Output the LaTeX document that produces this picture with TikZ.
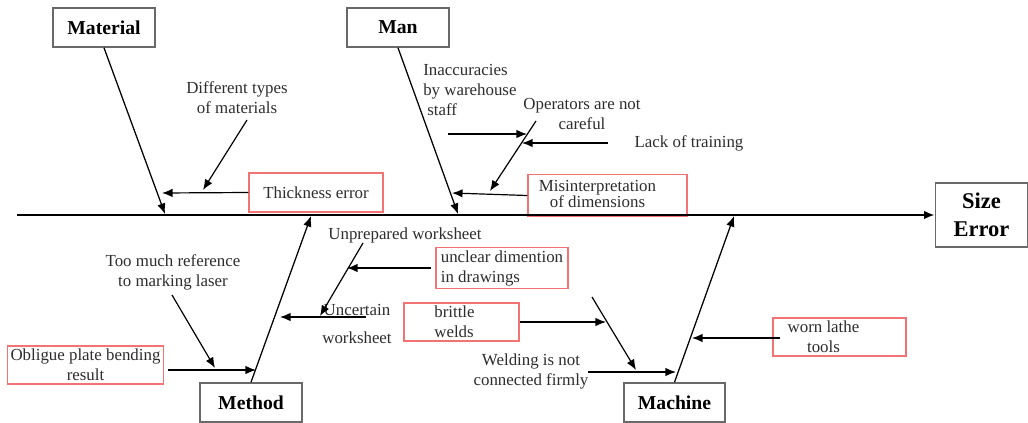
\documentclass[tikz,border=0pt]{standalone}
\usepackage{fontspec}
\setmainfont{Liberation Serif}
\usetikzlibrary{arrows,arrows.meta}
\usetikzlibrary{calc}
\definecolor{boxgray}{RGB}{105,105,105}
\definecolor{boxred}{RGB}{242,115,115}
\definecolor{inkgray}{RGB}{45,45,45}
\tikzset{>={Latex[length=7.5pt,width=6pt]}}
\tikzstyle{bone} = [line width = 0.9, ->]
\tikzstyle{twig} = [line width = 0.85, ->]
\tikzstyle{note} = [%
					text = inkgray,
					inner sep = 0,
					align = center,
					font = \fontsize{12}{14.2}\selectfont
					]

\begin{document}
\begin{tikzpicture}[x=0.025cm, y=-0.025cm, category/.style args={#1,#2}{draw=boxgray,line width=1.1,minimum width=#1,minimum height=#2,inner sep=0,font=\fontsize{14}{16}\selectfont\bfseries},cause/.style args={#1,#2}{draw=boxred,line width=1,minimum width=#1,minimum height=#2,inner sep=2pt,text=inkgray,font=\fontsize{12}{14.2}\selectfont}]

	\useasboundingbox (0,0) rectangle (1028,422);

	% Categories
	\node (material) [category={2.55cm,0.975cm}] at (104,27.5) {Material};
	\node (man)      [category={2.55cm,0.975cm}] at (398,27.5) {Man};
	\node (method)   [category={2.55cm,0.975cm}] at (251,402.5) {Method};
	\node (machine)  [category={2.53cm,0.975cm}] at (674.5,402.5) {Machine};
	\node (effect)   [category={2.3cm,1.6cm}, align=center, font=\fontsize{16}{20}\selectfont\bfseries] at (981.5,215) {Size\\Error};

	% Causes in boxes
	\node (thick)   [cause={3.35cm,0.975cm}] at (316,192.5) {Thickness error};
	\node (misint)  [cause={3.975cm,0.925cm}, align=center] at (607.5,195.5) {\hspace*{-0.5cm}\raisebox{0.1cm}{\begin{tabular}{@{}c@{}}Misinterpretation\\[-0.09cm] of dimensions\end{tabular}}};
	\node (unclear) [cause={3.3cm,0.95cm}, align=left] at (502,268) {unclear dimention\\in drawings};
	\node (brittle) [cause={2.875cm,0.95cm}, align=left] at (461.5,322) {\hspace*{-0.35cm}brittle\\\hspace*{-0.35cm}welds};
	\node (worn)    [cause={3.325cm,0.95cm}, align=center] at (839.5,337) {\hspace*{-0.8cm}worn lathe\\\hspace*{-0.8cm}tools};
	\node (oblique) [cause={3.675cm,0.95cm}, align=center] at (85.5,365) {Obligue plate bending\\result};

	% Causes as plain text
	\node (types)   [note] at (237,98) {Different types\\of materials};
	\node (staff)   [note, align=left, anchor=west] at (423,90) {Inaccuracies\\by warehouse\\\hspace*{0.1cm}staff};
	\node (careless)[note] at (582,114) {Operators are not\\careful};
	\node (training)[note] at (689,143) {Lack of training};
	\node (laser)   [note] at (173,272) {Too much reference\\to marking laser};
	\node (unprep)  [note] at (405,235) {Unprepared worksheet};
	\node (uncert)  [note, font=\fontsize{12}{19.8}\selectfont] at (357,324) {Uncertain\\worksheet};
	\node (welding) [note] at (531,371.5) {Welding is not\\connected firmly};

	% Coordinates
	\coordinate (tail) at (17,215);
	\coordinate (matTip) at (165,214);
	\coordinate (manTip) at (458,214);
	\coordinate (metTip) at (311,216);
	\coordinate (macTip) at (734,216);
	\coordinate (thickTip) at (162,193);
	\coordinate (typesFrom) at (247,120);
	\coordinate (typesTip) at (203,190);
	\coordinate (staffFrom) at (448,134);
	\coordinate (staffTip) at (527,134);
	\coordinate (carelessFrom) at (536,121);
	\coordinate (carelessTip) at (490,191);
	\coordinate (trainingFrom) at (608,143);
	\coordinate (trainingTip) at (522,143);
	\coordinate (misintTip) at (452,193);
	\coordinate (laserFrom) at (172,295);
	\coordinate (laserTip) at (215,368);
	\coordinate (obliqueFrom) at (168,370);
	\coordinate (obliqueTip) at (256,370);
	\coordinate (uncertFrom) at (366,317);
	\coordinate (uncertTip) at (280,317);
	\coordinate (unprepFrom) at (363,243);
	\coordinate (unprepTip) at (320,316);
	\coordinate (unclearFrom) at (431,268);
	\coordinate (unclearTip) at (347,268);
	\coordinate (brittleTip) at (606,322);
	\coordinate (weldFrom) at (592,297);
	\coordinate (weldTip) at (636,370);
	\coordinate (weldingFrom) at (588,372);
	\coordinate (weldingTip) at (676,372);
	\coordinate (wornFrom) at (780,338);
	\coordinate (wornTip) at (692,338);

	% Spine
	\draw[line width = 1.4, ->] (tail) -- (effect.west);

	% Main bones
	\draw[bone] (material.south) -- (matTip);
	\draw[bone] (man.south) -- (manTip);
	\draw[bone] (method.north) -- (metTip);
	\draw[bone] (machine.north) -- (macTip);

	% Material
	\draw[twig] (thick.west) -- (thickTip);
	\draw[twig] (typesFrom) -- (typesTip);

	% Man
	\draw[twig] (staffFrom) -- (staffTip);
	\draw[twig] (carelessFrom) -- (carelessTip);
	\draw[twig] (trainingFrom) -- (trainingTip);
	\draw[twig] (misint.west) -- (misintTip);

	% Method
	\draw[twig] (laserFrom) -- (laserTip);
	\draw[twig] (obliqueFrom) -- (obliqueTip);
	\draw[twig] (uncertFrom) -- (uncertTip);
	\draw[twig] (unprepFrom) -- (unprepTip);
	\draw[twig] (unclearFrom) -- (unclearTip);

	% Machine
	\draw[twig] (brittle.east) -- (brittleTip);
	\draw[twig] (weldFrom) -- (weldTip);
	\draw[twig] (weldingFrom) -- (weldingTip);
	\draw[twig] (wornFrom) -- (wornTip);

\end{tikzpicture}
\end{document}
